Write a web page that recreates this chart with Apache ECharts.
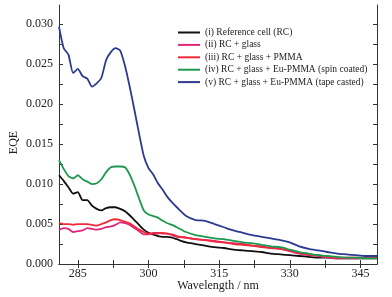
<!DOCTYPE html>
<html>
<head>
<meta charset="utf-8">
<script src="https://cdn.jsdelivr.net/npm/echarts@6/dist/echarts.min.js"></script>
<style>
  html, body { margin: 0; padding: 0; background: #fff; }
  #eqe_chart { width: 392px; height: 297px; }
</style>
</head>
<body>
<div id="eqe_chart"></div>
<script>
// wavelength grid (nm) shared by all curves
var wavelength = [281, 282, 283, 284, 285, 286, 287, 288, 289, 290, 291, 292, 293, 294, 295, 296, 297, 298, 299, 300,
    301, 302, 303, 304, 305, 306, 308, 310, 312, 314, 316, 318, 320, 322, 324, 326, 328, 330, 332, 334,
    336, 338, 340, 342, 344, 346, 348.5];

var refCell = [0.0111, 0.0104, 0.0096, 0.0088, 0.0090, 0.0080, 0.0080, 0.0073, 0.0069, 0.0067, 0.0070, 0.0071, 0.0071, 0.0069, 0.0066, 0.0061, 0.0055, 0.0049, 0.0043, 0.0039,
    0.0037, 0.0035, 0.0034, 0.0034, 0.0033, 0.0031, 0.0027, 0.0025, 0.0023, 0.0021, 0.0020, 0.0018, 0.0017, 0.0016, 0.0015, 0.0013, 0.0012, 0.0011, 0.0010, 0.0009,
    0.0008, 0.0008, 0.0007, 0.0007, 0.0007, 0.0007, 0.0007];
var rcGlass = [0.0043, 0.0045, 0.0044, 0.0040, 0.0041, 0.0042, 0.0045, 0.0044, 0.0043, 0.0044, 0.0046, 0.0047, 0.0049, 0.0052, 0.0051, 0.0049, 0.0045, 0.0041, 0.0037, 0.0037,
    0.0039, 0.0039, 0.0038, 0.0038, 0.0036, 0.0034, 0.0033, 0.0031, 0.0030, 0.0029, 0.0027, 0.0026, 0.0025, 0.0023, 0.0022, 0.0020, 0.0019, 0.0016, 0.0013, 0.0011,
    0.0010, 0.0008, 0.0007, 0.0007, 0.0007, 0.0008, 0.0008];
var rcGlassPmma = [0.0051, 0.0050, 0.0050, 0.0049, 0.0050, 0.0050, 0.0050, 0.0049, 0.0048, 0.0050, 0.0052, 0.0055, 0.0056, 0.0055, 0.0053, 0.0051, 0.0047, 0.0043, 0.0040, 0.0038,
    0.0038, 0.0038, 0.0039, 0.0038, 0.0037, 0.0035, 0.0033, 0.0031, 0.0030, 0.0028, 0.0027, 0.0025, 0.0024, 0.0023, 0.0021, 0.0020, 0.0019, 0.0017, 0.0014, 0.0012,
    0.0011, 0.0009, 0.0008, 0.0008, 0.0008, 0.0008, 0.0008];
var spinCoated = [0.0130, 0.0119, 0.0110, 0.0107, 0.0111, 0.0106, 0.0103, 0.0100, 0.0101, 0.0106, 0.0115, 0.0121, 0.0122, 0.0122, 0.0121, 0.0112, 0.0098, 0.0082, 0.0067, 0.0062,
    0.0060, 0.0058, 0.0054, 0.0051, 0.0049, 0.0046, 0.0040, 0.0036, 0.0034, 0.0032, 0.0031, 0.0029, 0.0027, 0.0026, 0.0024, 0.0022, 0.0021, 0.0018, 0.0015, 0.0013,
    0.0011, 0.0010, 0.0009, 0.0008, 0.0008, 0.0007, 0.0007];
var tapeCasted = [0.0297, 0.0270, 0.0262, 0.0239, 0.0244, 0.0235, 0.0232, 0.0222, 0.0226, 0.0233, 0.0255, 0.0265, 0.0270, 0.0267, 0.0248, 0.0222, 0.0193, 0.0163, 0.0135, 0.0120,
    0.0112, 0.0101, 0.0093, 0.0084, 0.0077, 0.0071, 0.0060, 0.0055, 0.0054, 0.0050, 0.0046, 0.0042, 0.0039, 0.0036, 0.0034, 0.0032, 0.0030, 0.0027, 0.0022, 0.0019,
    0.0017, 0.0015, 0.0013, 0.0012, 0.0011, 0.0010, 0.0010];

var xLabels = [285, 300, 315, 330, 345];
var xTicks = [285, 292.5, 300, 307.5, 315, 322.5, 330, 337.5, 345];
var yLabels = [0, 0.005, 0.010, 0.015, 0.020, 0.025, 0.030];
var yTicks = [0, 0.0025, 0.005, 0.0075, 0.010, 0.0125, 0.015, 0.0175, 0.020, 0.0225, 0.025, 0.0275, 0.030];

var seriesNames = ['(i) Reference cell (RC)', '(ii) RC + glass', '(iii) RC + glass + PMMA',
    '(iv) RC + glass + Eu-PMMA (spin coated)', '(v) RC + glass + Eu-PMMA (tape casted)'];
var seriesValues = [refCell, rcGlass, rcGlassPmma, spinCoated, tapeCasted];
var seriesColors = ['#111111', '#e0267a', '#ee2a3a', '#1e9a4e', '#2e3a92'];

var serif = 'Liberation Serif, Times New Roman, serif';

var eqe_chart = echarts.init(document.getElementById('eqe_chart'));

function pairUp(vals) {
    return wavelength.map(function (w, i) { return [w, vals[i]]; });
}

var frameAxis = {
    axisLine: { show: true, lineStyle: { color: '#333', width: 1 } },
    axisLabel: { show: false },
    splitLine: { show: false }
};

var eqe_option = {
    backgroundColor: '#fff',
    animation: false,
    grid: { left: 59, right: 15, top: 5, bottom: 33, outerBoundsMode: 'none' },
    legend: {
        orient: 'vertical',
        left: 178,
        top: 27,
        padding: 0,
        itemWidth: 22,
        itemHeight: 2,
        itemGap: 1.4,
        icon: 'rect',
        textStyle: { fontFamily: serif, fontSize: 9.5, color: '#222', lineHeight: 11 },
        data: seriesNames
    },
    xAxis: [
        {
            type: 'value', min: 281, max: 348.5, position: 'bottom',
            name: 'Wavelength / nm', nameLocation: 'middle', nameGap: 16, nameMoveOverlap: false,
            nameTextStyle: { fontFamily: serif, fontSize: 12, color: '#222' },
            axisLine: { show: true, onZero: false, lineStyle: { color: '#333', width: 1 } },
            axisTick: { show: true, inside: true, length: 4, customValues: xTicks, lineStyle: { color: '#333' } },
            axisLabel: { fontFamily: serif, fontSize: 12, color: '#222', margin: 4, customValues: xLabels },
            splitLine: { show: false }
        },
        Object.assign({
            type: 'value', min: 281, max: 348.5, position: 'top',
            axisTick: { show: true, inside: true, length: 4, customValues: xTicks, lineStyle: { color: '#333' } }
        }, frameAxis)
    ],
    yAxis: [
        {
            type: 'value', min: 0, max: 0.0324, position: 'left',
            name: 'EQE', nameLocation: 'middle', nameGap: 39, nameMoveOverlap: false,
            nameTextStyle: { fontFamily: serif, fontSize: 12, color: '#222', padding: [0, 16, 0, 0] },
            axisLine: { show: true, onZero: false, lineStyle: { color: '#333', width: 1 } },
            axisTick: { show: true, inside: true, length: 4, customValues: yTicks, lineStyle: { color: '#333' } },
            axisLabel: {
                fontFamily: serif, fontSize: 12, color: '#222', margin: 6, customValues: yLabels,
                formatter: function (v) { return v.toFixed(3); }
            },
            splitLine: { show: false }
        },
        Object.assign({
            type: 'value', min: 0, max: 0.0324, position: 'right',
            axisTick: { show: true, inside: true, length: 4, customValues: yTicks, lineStyle: { color: '#333' } }
        }, frameAxis)
    ],
    series: seriesNames.map(function (name, i) {
        return {
            name: name,
            type: 'line',
            data: pairUp(seriesValues[i]),
            showSymbol: false,
            symbol: 'none',
            smooth: 0.2,
            color: seriesColors[i],
            lineStyle: { width: 1.8, color: seriesColors[i] }
        };
    })
};

eqe_chart.setOption(eqe_option);
window.addEventListener('resize', function () {
    eqe_chart.resize();
});
</script>
</body>
</html>
